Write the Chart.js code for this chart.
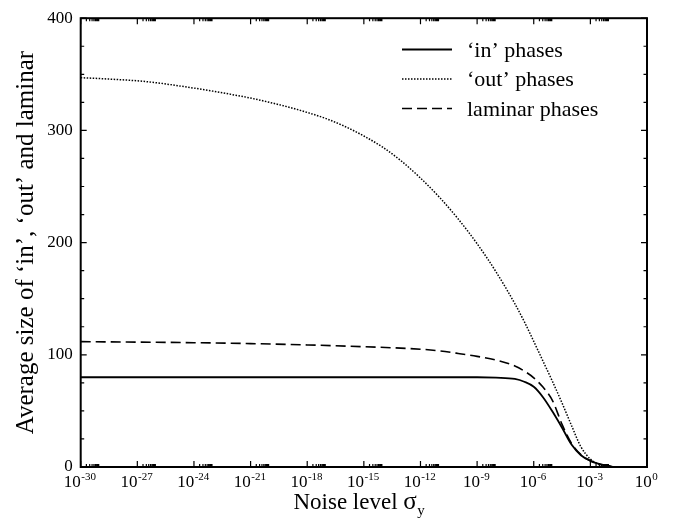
<!DOCTYPE html>
<html><head><meta charset="utf-8">
<script src="https://cdn.jsdelivr.net/npm/chart.js@4.4.1/dist/chart.umd.min.js"></script>
<style>html,body{margin:0;padding:0;background:#fff}#wrap{width:681px;height:520px}</style>
</head><body><div id="wrap"><canvas id="c" width="681" height="520"></canvas></div>
<script>
// x values are log10 of the noise level sigma_y
const inX  = [-30,-27,-24,-21,-18,-15,-12,-9,-8,-7,-6.5,-6,-5.5,-5,-4.5,-4,-3.5,-3,-2.5,-2,-1.8];
const inY  = [80,80,80,80,80,80,80,80,79.6,78.5,76,71.5,62,49.2,35,20,10.5,5.5,2.5,1,0];
const outX = [-30,-29,-28,-27,-26,-25,-24,-23,-22,-21,-20,-19,-18,-17,-16,-15,-14,-13,-12,-11,-10,-9,-8,-7,-6.5,-6,-5.5,-5,-4.5,-4,-3.5,-3,-2.5,-2,-1.7];
const outY = [347,346.2,345.3,344.2,342.5,340.2,337.7,335,332,328.8,325,320.8,316,310.5,303.5,295,285,272.5,257.5,240.5,221,199,174,145.5,129.5,112,94,76,57,37,18,7,2.2,0.5,0];
const lamX = [-30,-27,-24,-21,-18,-15,-12,-11,-10,-9,-8,-7,-6.5,-6,-5.5,-5,-4.5,-4,-3.5,-3,-2.5,-2,-1.8];
const lamY = [111.7,111.3,110.8,110,108.8,107.2,105,103.5,101.2,98.6,95.3,90,85.5,79.5,71,59,38,21,11,5.5,2.5,1,0];
const seriesNames = ['\u2018in\u2019 phases','\u2018out\u2019 phases','laminar phases'];
const xTickExponents = [-30,-27,-24,-21,-18,-15,-12,-9,-6,-3,0];
const yMinorStep = 25;
const yTitle = 'Average size of \u2018in\u2019, \u2018out\u2019 and laminar';
const xTitleMain = 'Noise level ';
const xTitleSym = '\u03C3';
const xTitleSub = 'y';

const FONT = '"Liberation Serif", "Times New Roman", serif';
const pts = (xs, ys) => xs.map((v, i) => ({x: v, y: ys[i]}));

const decor = {
  id: 'decor',
  afterDatasetsDraw(chart) {
    const {ctx, chartArea: a, scales: {x, y}} = chart;
    ctx.save();
    ctx.strokeStyle = '#000';
    ctx.fillStyle = '#000';
    ctx.lineWidth = 2;
    ctx.strokeRect(a.left, a.top, a.right - a.left, a.bottom - a.top);
    ctx.lineWidth = 1.2;
    ctx.beginPath();
    for (const e of xTickExponents) {
      const px = x.getPixelForValue(e);
      ctx.moveTo(px, a.bottom); ctx.lineTo(px, a.bottom - 6);
      ctx.moveTo(px, a.top); ctx.lineTo(px, a.top + 6);
      if (e < 0) {
        for (let m = 2; m <= 9; m++) {
          const q = x.getPixelForValue(e + Math.log10(m));
          ctx.moveTo(q, a.bottom); ctx.lineTo(q, a.bottom - 3);
          ctx.moveTo(q, a.top); ctx.lineTo(q, a.top + 3);
        }
      }
    }
    for (let v = y.min; v <= y.max; v += yMinorStep) {
      const py = y.getPixelForValue(v);
      const len = v % 100 === 0 ? 6 : 3.5;
      ctx.moveTo(a.left, py); ctx.lineTo(a.left + len, py);
      ctx.moveTo(a.right, py); ctx.lineTo(a.right - len, py);
    }
    ctx.stroke();

    // x tick labels 10^n
    ctx.textBaseline = 'alphabetic';
    ctx.textAlign = 'left';
    for (const e of xTickExponents) {
      const px = x.getPixelForValue(e);
      const base = '10', sup = e < 0 ? '-' + Math.abs(e) : String(e);
      ctx.font = '17px ' + FONT;
      const wb = ctx.measureText(base).width;
      ctx.font = '11px ' + FONT;
      const ws = ctx.measureText(sup).width;
      const sx = px - (wb + ws) / 2 - 1;
      ctx.font = '17px ' + FONT;
      ctx.fillText(base, sx, a.bottom + 20);
      ctx.font = '11px ' + FONT;
      ctx.fillText(sup, sx + wb + 0.5, a.bottom + 12.5);
    }

    // x title
    ctx.font = '23px ' + FONT;
    const w1 = ctx.measureText(xTitleMain).width;
    ctx.font = '25px ' + FONT;
    const w2 = ctx.measureText(xTitleSym).width;
    ctx.font = '15px ' + FONT;
    const w3 = ctx.measureText(xTitleSub).width;
    let tx = (a.left + a.right) / 2 - (w1 + w2 + w3) / 2 - 5;
    const ty = 509;
    ctx.font = '23px ' + FONT; ctx.fillText(xTitleMain, tx, ty); tx += w1;
    ctx.font = '25px ' + FONT; ctx.fillText(xTitleSym, tx, ty); tx += w2 + 0.5;
    ctx.font = '15px ' + FONT; ctx.fillText(xTitleSub, tx, ty + 6);

    // legend
    const rows = [49.5, 79, 108.5];
    chart.data.datasets.forEach((ds, i) => {
      const ly = rows[i];
      ctx.beginPath();
      ctx.lineWidth = ds.borderWidth;
      ctx.setLineDash(ds.borderDash || []);
      ctx.moveTo(402, ly); ctx.lineTo(452, ly);
      ctx.stroke();
      ctx.setLineDash([]);
      ctx.font = '22px ' + FONT;
      ctx.fillText(ds.label, 467, ly + 7);
    });
    ctx.restore();
  }
};

new Chart(document.getElementById('c'), {
  type: 'line',
  data: {
    datasets: [
      {label: seriesNames[0], data: pts(inX, inY), borderColor: '#000', borderWidth: 1.8, borderDash: [], cubicInterpolationMode: 'monotone', pointRadius: 0, fill: false},
      {label: seriesNames[1], data: pts(outX, outY), borderColor: '#000', borderWidth: 1.5, borderDash: [1.5, 1.5], cubicInterpolationMode: 'monotone', pointRadius: 0, fill: false},
      {label: seriesNames[2], data: pts(lamX, lamY), borderColor: '#000', borderWidth: 1.6, borderDash: [10, 5], cubicInterpolationMode: 'monotone', pointRadius: 0, fill: false}
    ]
  },
  options: {
    responsive: false,
    animation: false,
    layout: {padding: {left: 0, right: 34, top: 11, bottom: 0}},
    plugins: {legend: {display: false}, tooltip: {enabled: false}},
    scales: {
      x: {type: 'linear', min: -30, max: 0,
          grid: {display: false, drawTicks: false}, border: {display: false},
          ticks: {display: false, stepSize: 3},
          afterFit(s) { s.height = 53; }},
      y: {min: 0, max: 400,
          grid: {display: false, drawTicks: false}, border: {display: false},
          ticks: {stepSize: 100, color: '#000', padding: 8, font: {family: FONT, size: 17}},
          title: {display: true, text: yTitle, color: '#000', font: {family: FONT, size: 25}, padding: {top: 11, bottom: 0}},
          afterFit(s) { s.width = 80.7; }}
    }
  },
  plugins: [decor]
});
</script>
</body></html>
